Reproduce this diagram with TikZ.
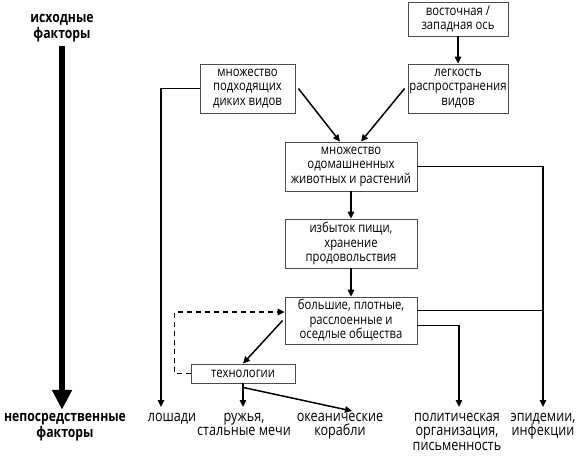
\documentclass[tikz,border=0pt]{standalone}
\usepackage{fontspec}
\setmainfont[FakeStretch=0.83]{Open Sans}
\usetikzlibrary{arrows.meta}

\begin{document}
\begin{tikzpicture}[x=1pt,y=-1pt,
  box/.style={draw=black!70,line width=0.8pt,align=center,inner sep=0pt,font=\fontsize{13.6}{14.5}\selectfont},
  lbl/.style={align=center,anchor=north,inner sep=0pt,outer ysep=6pt,font=\fontsize{15.2}{14.5}\selectfont},
  side/.style={align=center,font=\bfseries\fontsize{14.7}{16.5}\selectfont},
  link/.style={line width=1.5pt},
  arr/.style={link,-{Triangle[length=7pt,width=6.5pt]}},
  dasharr/.style={arr,dashed,dash pattern=on 5pt off 4pt},
  bigarrow/.style={line width=5.5pt,-{Triangle[length=20pt,width=19pt]}}]
\useasboundingbox (0,0) rectangle (580,458);
\node (src) [side] at (62,28) {исходные\\факторы};
\node (prox) [side,font=\bfseries\fontsize{14.7}{14.5}\selectfont] at (65,427) {непосредственные\\факторы};
\node (eastwest) [box,minimum width=100pt,minimum height=34pt] at (458,19) {восточная /\\западная ось};
\node (ease) [box,minimum width=100pt,minimum height=49pt] at (458,88.5) {легкость\\распространения\\видов};
\node (wild) [box,minimum width=95pt,minimum height=49pt] at (247.5,88.5) {множество\\подходящих\\диких видов};
\node (domestic) [box,minimum width=132pt,minimum height=49pt] at (351,166.5) {множество\\одомашненных\\животных и растений};
\node (food) [box,minimum width=132pt,minimum height=49pt] at (351,243.5) {избыток пищи,\\хранение\\продовольствия};
\node (society) [box,minimum width=132pt,minimum height=47pt] at (351,320.5) {большие, плотные,\\расслоенные и\\оседлые общества};
\node (tech) [box,minimum width=104pt,minimum height=19pt] at (243,373.5) {технологии};
\node (horses) [lbl] at (172,407) {лошади};
\node (guns) [lbl] at (244,407) {ружья,\\стальные мечи};
\node (ships) [lbl] at (340,407) {океанические\\корабли};
\node (politics) [lbl] at (457,407) {политическая\\организация,\\письменность};
\node (epidemics) [lbl] at (543,407) {эпидемии,\\инфекции};
\draw[bigarrow] (src) -- (src |- prox.north);
\draw[arr] (eastwest) -- (ease);
\draw[arr] ([xshift=3pt]wild.east) -- ([xshift=-11pt]domestic.north);
\draw[arr] ([xshift=-3pt]ease.west) -- ([xshift=10pt]domestic.north);
\draw[arr] (domestic) -- (food);
\draw[arr] (food) -- (society);
\draw[arr] (wild.west) -| ([xshift=-11pt]horses.north);
\draw[arr] (domestic.east) -| (epidemics.north);
\draw[link] ([yshift=10pt]society.east) -- ([yshift=10pt]society.east -| epidemics.north);
\draw[arr] ([yshift=-5pt]society.east) -| ([xshift=2pt]politics.north);
\draw[arr] ([xshift=-2pt]society.west) -- (tech.north);
\draw[dasharr] (tech.west) -- ++(-16,0) |- ([yshift=8.5pt]society.west);
\draw[arr] (tech.south) -- (tech.south |- guns.north);
\draw[arr] ([yshift=-4pt]tech.south) -- ([xshift=12pt,yshift=-4pt]ships.north);
\end{tikzpicture}
\end{document}
